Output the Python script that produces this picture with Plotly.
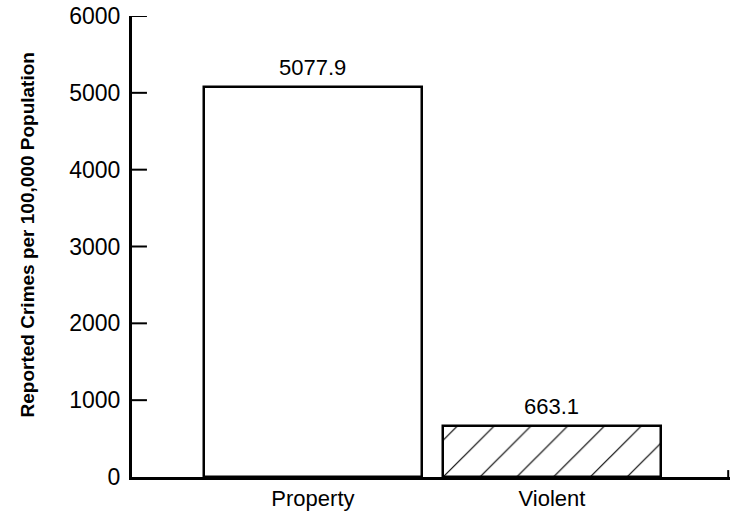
import plotly.graph_objects as go

categories = ["Property", "Violent"]
values = [5077.9, 663.1]
value_labels = ["5077.9", "663.1"]
y_ticks = [0, 1000, 2000, 3000, 4000, 5000, 6000]

FONT = "Liberation Sans, Arial, Helvetica, sans-serif"

fig = go.Figure()
fig.add_trace(go.Bar(
    x=categories,
    y=values,
    width=0.91,
    marker=dict(
        color="white",
        line=dict(color="black", width=2.5),
        pattern=dict(
            shape=["", "/"],
            size=26,
            solidity=0.045,
            fgcolor="black",
            fgopacity=1,
            bgcolor="white",
        ),
    ),
    showlegend=False,
))

for cat, val, lab in zip(categories, values, value_labels):
    fig.add_annotation(x=cat, y=val, text=lab, showarrow=False,
                       yanchor="bottom", yshift=5,
                       font=dict(family=FONT, size=22, color="black"))

fig.add_annotation(xref="paper", yref="paper", x=0, y=0.524, xshift=-105,
                   xanchor="center", yanchor="middle", textangle=-90,
                   showarrow=False,
                   text="<b>Reported Crimes per 100,000 Population</b>",
                   font=dict(family=FONT, size=19, color="black"))

# inward tick marks on the y axis, placed at the tick values via the y scale
for v in y_ticks[1:]:
    fig.add_shape(type="line", xref="paper", yref="y",
                  x0=0, x1=0.025, y0=v, y1=v,
                  line=dict(color="black", width=2))

fig.add_shape(type="line", xref="paper", yref="paper",
              x0=0.997, x1=0.997, y0=0, y1=0.015,
              line=dict(color="black", width=2))

fig.update_layout(
    width=733, height=511,
    margin=dict(l=132, r=3, t=16, b=34),
    paper_bgcolor="white",
    plot_bgcolor="white",
    font=dict(family=FONT, color="black", size=22),
    xaxis=dict(
        range=[-0.757, 1.745],
        showline=True, linecolor="black", linewidth=3,
        ticks="", showgrid=False, zeroline=False,
        tickfont=dict(size=22),
        automargin=False,
    ),
    yaxis=dict(
        range=[0, 6000],
        tickvals=y_ticks,
        ticktext=[str(v) for v in y_ticks],
        showline=True, linecolor="black", linewidth=3,
        ticks="",
        ticklabelstandoff=4,
        showgrid=False, zeroline=False,
        tickfont=dict(size=23),
        automargin=False,
    ),
    bargap=0,
)

fig.write_html("out.html",
               config={"displayModeBar": False},
               post_script="document.body.style.margin='0';document.body.style.padding='0';")
